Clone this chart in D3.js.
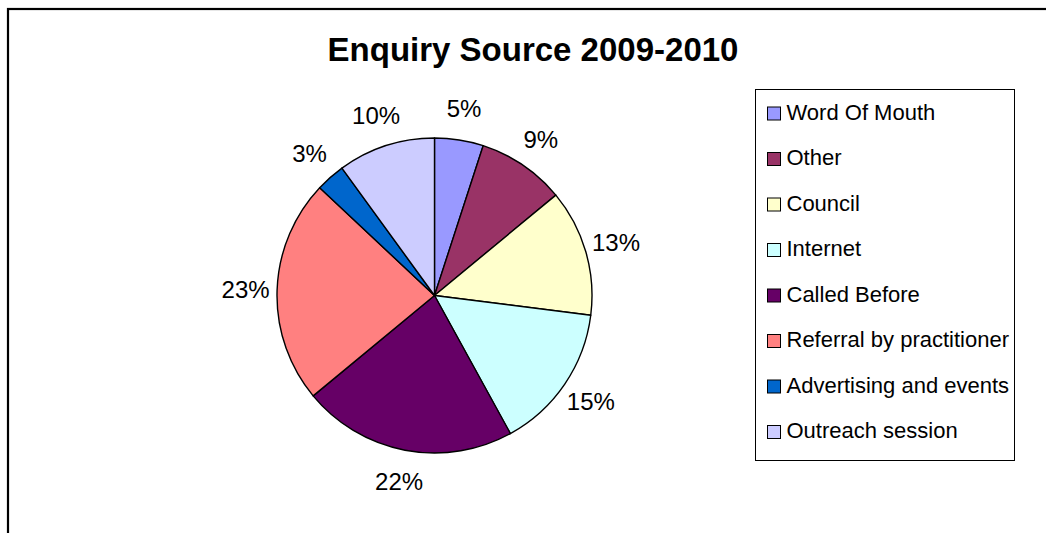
<!DOCTYPE html>
<html>
<head>
<meta charset="utf-8">
<script src="https://cdn.jsdelivr.net/npm/d3@7"></script>
<style>
  html, body { margin: 0; padding: 0; background: #fff; }
  svg { display: block; font-family: "Liberation Sans", Arial, sans-serif; }
</style>
</head>
<body>
<svg id="chart" width="1046" height="533"></svg>
<script>
// Enquiry sources and their share of enquiries (%), clockwise from 12 o'clock
const categories = ["Word Of Mouth", "Other", "Council", "Internet", "Called Before",
                    "Referral by practitioner", "Advertising and events", "Outreach session"];
const shares = [5, 9, 13, 15, 22, 23, 3, 10];
const sliceColors = ["#9999FF", "#993366", "#FFFFCC", "#CCFFFF", "#660066",
                     "#FF8080", "#0066CC", "#CCCCFF"];
const chartTitle = "Enquiry Source 2009-2010";

const svg = d3.select("#chart");
const W = 1046, H = 533;

// Outer chart frame (runs past the right and bottom of the view)
svg.append("rect")
  .attr("x", 8).attr("y", 9)
  .attr("width", 1200).attr("height", 700)
  .attr("fill", "#fff")
  .attr("stroke", "#000")
  .attr("stroke-width", 2.2);

// Title
svg.append("text")
  .attr("x", 533).attr("y", 61)
  .attr("text-anchor", "middle")
  .attr("font-size", 33)
  .attr("font-weight", "bold")
  .attr("fill", "#000")
  .text(chartTitle);

// Pie
const cx = 434.5, cy = 295.5, radius = 157.5, labelRadius = 189;
const data = categories.map((c, i) => ({ name: c, value: shares[i], color: sliceColors[i] }));

const pie = d3.pie().sort(null).value(d => d.value).startAngle(0).endAngle(2 * Math.PI);
const arc = d3.arc().innerRadius(0).outerRadius(radius);
const labelArc = d3.arc().innerRadius(labelRadius).outerRadius(labelRadius);

const g = svg.append("g").attr("transform", `translate(${cx},${cy})`);
const arcs = pie(data);

g.selectAll("path.slice")
  .data(arcs)
  .join("path")
  .attr("class", "slice")
  .attr("d", arc)
  .attr("fill", d => d.data.color)
  .attr("stroke", "#000")
  .attr("stroke-width", 1.4)
  .attr("stroke-linejoin", "round");

g.selectAll("text.pct")
  .data(arcs)
  .join("text")
  .attr("class", "pct")
  .attr("transform", d => { const [x, y] = labelArc.centroid(d); return `translate(${x},${y})`; })
  .attr("text-anchor", "middle")
  .attr("dy", "0.36em")
  .attr("font-size", 24)
  .attr("fill", "#000")
  .text(d => d3.format(".0%")(d.data.value / 100));

// Legend
const legend = svg.append("g");
const lgX = 755, lgY = 89, lgW = 259, lgH = 371;
legend.append("rect")
  .attr("x", lgX + 0.5).attr("y", lgY + 0.5)
  .attr("width", lgW).attr("height", lgH)
  .attr("fill", "#fff")
  .attr("stroke", "#000")
  .attr("stroke-width", 1);

const rowY = d3.scalePoint().domain(categories).range([119.5, 438]);

const items = legend.selectAll("g.item")
  .data(data)
  .join("g")
  .attr("class", "item")
  .attr("transform", d => `translate(0,${rowY(d.name)})`);

items.append("rect")
  .attr("x", 767.5).attr("y", -12.5)
  .attr("width", 13).attr("height", 13)
  .attr("fill", d => d.color)
  .attr("stroke", "#000")
  .attr("stroke-width", 1);

items.append("text")
  .attr("x", 786.5).attr("y", 0)
  .attr("font-size", 22)
  .attr("fill", "#000")
  .text(d => d.name);
</script>
</body>
</html>
